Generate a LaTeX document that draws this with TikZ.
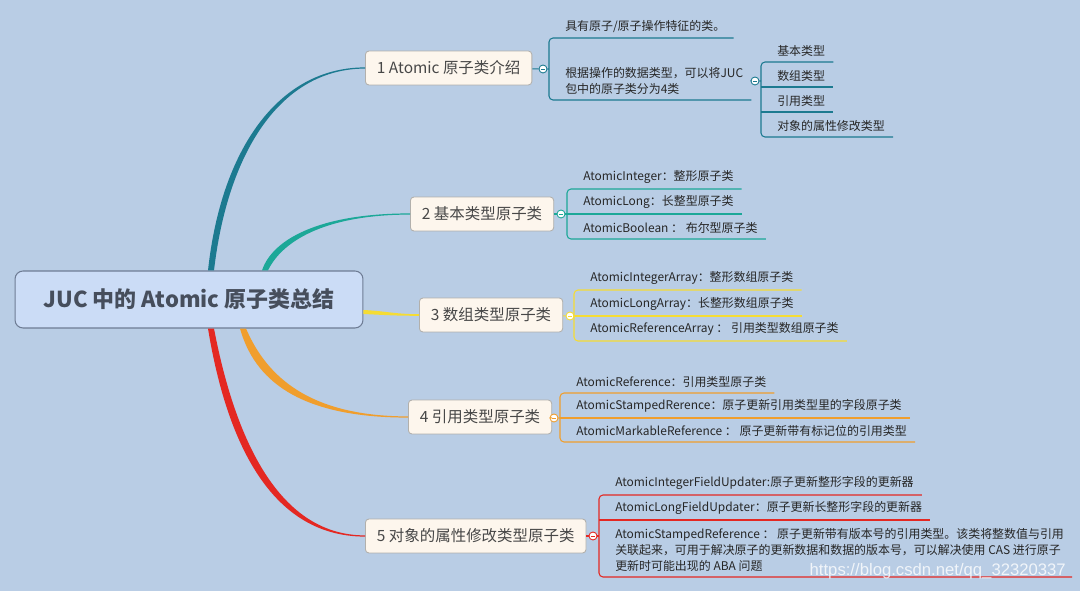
\documentclass[tikz,border=0pt]{standalone}
\usepackage{fontspec}
\setmainfont{Noto Sans CJK SC}
\newfontfamily\wmfont{Liberation Sans}
\usetikzlibrary{calc}

\definecolor{bg}{RGB}{185,205,229}
\definecolor{rootfill}{RGB}{203,220,246}
\definecolor{rootline}{RGB}{110,124,148}
\definecolor{roottext}{RGB}{70,78,92}
\definecolor{cream}{RGB}{253,246,237}
\definecolor{topicline}{RGB}{178,176,172}
\definecolor{c1}{RGB}{28,122,144}
\definecolor{c2}{RGB}{28,168,152}
\definecolor{c3}{RGB}{245,220,52}
\definecolor{c4}{RGB}{240,158,45}
\definecolor{c5}{RGB}{228,40,34}

\tikzset{
  root/.style={draw=rootline, fill=rootfill, rounded corners=0.16cm, line width=0.6pt,
    minimum width=6.96cm, minimum height=1.14cm, text=roottext,
    font=\fontsize{12.5}{15}\selectfont\bfseries},
  topic/.style={draw=topicline, fill=cream, rounded corners=0.07cm, line width=0.5pt,
    minimum height=0.68cm, inner xsep=0.23cm, anchor=west, text=black!72,
    font=\fontsize{8.8}{10}\selectfont},
  leaf/.style={anchor=south west, inner xsep=4.5pt, inner ysep=3pt, text=black!85,
    align=left, font=\fontsize{6.8}{9.2}\selectfont},
  fold/.style={circle, draw=#1, fill=white, line width=0.5pt, inner sep=0pt,
    minimum size=0.16cm,
    path picture={\draw[#1, line width=0.5pt]
      ([xshift=-0.045cm]path picture bounding box.center) --
      ([xshift=0.045cm]path picture bounding box.center);}},
  stem/.style={line width=0.6pt}
}

\begin{document}
\begin{tikzpicture}[x=0.02cm, y=-0.02cm]
  % canvas in screen pixels, y runs downwards
  \fill[bg] (0,0) rectangle (1080,591);
  \useasboundingbox (0,0) rectangle (1080,591);

  % --- central topic and main branches ---
  \node[root] (root) at (189,299.5) {JUC 中的 Atomic 原子类总结};
  \node[topic] (b1) at (365,68) {1 Atomic 原子类介绍};
  \node[topic] (b2) at (410,214) {2 基本类型原子类};
  \node[topic] (b3) at (419,315) {3 数组类型原子类};
  \node[topic] (b4) at (408,417) {4 引用类型原子类};
  \node[topic] (b5) at (365,536) {5 对象的属性修改类型原子类};

  % tapered links root -> topics
  \fill[c1] ($(root.north)+(19,0)$) .. controls (221,150) and (278,67.4) .. ($(b1.west)+(0,-0.6)$)
    -- ($(b1.west)+(0,0.6)$) .. controls (282,68.6) and (228,150) .. ($(root.north)+(25,0)$) -- cycle;
  \fill[c2] ($(root.north)+(73,0)$) .. controls (272,240) and (318,213.4) .. ($(b2.west)+(0,-0.6)$)
    -- ($(b2.west)+(0,0.6)$) .. controls (322,214.6) and (281,243) .. ($(root.north)+(79,0)$) -- cycle;
  \fill[c3] ($(root.east)+(0,10.5)$) .. controls (385,311) and (395,314.2) .. ($(b3.west)+(0,-0.8)$)
    -- ($(b3.west)+(0,0.8)$) .. controls (395,315.8) and (385,315) .. ($(root.east)+(0,14.5)$) -- cycle;
  \fill[c4] ($(root.south)+(51,0)$) .. controls (254,378) and (296,417.6) .. ($(b4.west)+(0,0.6)$)
    -- ($(b4.west)+(0,-0.6)$) .. controls (302,416.4) and (264,370) .. ($(root.south)+(57,0)$) -- cycle;
  \fill[c5] ($(root.south)+(19,0)$) .. controls (225,432) and (266,536.6) .. ($(b5.west)+(0,0.6)$)
    -- ($(b5.west)+(0,-0.6)$) .. controls (274,535.4) and (233,428) .. ($(root.south)+(25,0)$) -- cycle;

  % --- 1 Atomic ---
  \node[fold=c1] (o1) at (543,69) {};
  \coordinate (k1) at (549,69);
  \node[leaf] (l11) at (557,38) {具有原子/原子操作特征的类。};
  \node[leaf] (l12) at (557,100) {根据操作的数据类型，可以将JUC\\包中的原子类分为4类};
  \draw[c1, stem] (b1) -- (o1) -- (k1);
  \draw[c1, stem, rounded corners=0.08cm] (l11.south east) -- (l11.south east -| k1)
    -- (l12.south east -| k1) -- (l12.south east);

  \node[fold=c1] (o12) at (755,81) {};
  \coordinate (k12) at (761,81);
  \node[leaf] (s1) at (769,62) {基本类型};
  \node[leaf] (s2) at (769,87) {数组类型};
  \node[leaf] (s3) at (769,112) {引用类型};
  \node[leaf] (s4) at (769,137) {对象的属性修改类型};
  \draw[c1, stem] (l12.east) -- (o12) -- (k12);
  \draw[c1, stem, rounded corners=0.08cm] (s1.south east) -- (s1.south east -| k12)
    -- (s4.south east -| k12) -- (s4.south east);
  \draw[c1, stem] (s2.south east -| k12) -- (s2.south east);
  \draw[c1, stem] (s3.south east -| k12) -- (s3.south east);

  % --- 2 basic types ---
  \node[fold=c2] (o2) at (561,214) {};
  \coordinate (k2) at (567,214);
  \node[leaf] (a21) at (575,189) {AtomicInteger：整形原子类};
  \node[leaf] (a22) at (575,214) {AtomicLong：长整型原子类};
  \node[leaf] (a23) at (575,239) {AtomicBoolean ： 布尔型原子类};
  \draw[c2, stem] (b2) -- (o2) -- (k2);
  \draw[c2, stem, rounded corners=0.08cm] (a21.south east) -- (a21.south east -| k2)
    -- (a23.south east -| k2) -- (a23.south east);
  \draw[c2, stem] (a22.south east -| k2) -- (a22.south east);

  % --- 3 arrays ---
  \node[fold=c3] (o3) at (570,316) {};
  \coordinate (k3) at (574,316);
  \node[leaf] (a31) at (582,290) {AtomicIntegerArray：整形数组原子类};
  \node[leaf] (a32) at (582,316) {AtomicLongArray：长整形数组原子类};
  \node[leaf] (a33) at (582,341) {AtomicReferenceArray ： 引用类型数组原子类};
  \draw[c3, stem] (b3) -- (o3) -- (k3);
  \draw[c3, stem, rounded corners=0.08cm] (a31.south east) -- (a31.south east -| k3)
    -- (a33.south east -| k3) -- (a33.south east);
  \draw[c3, stem] (a32.south east -| k3) -- (a32.south east);

  % --- 4 references ---
  \node[fold=c4] (o4) at (554,418) {};
  \coordinate (k4) at (560,418);
  \node[leaf] (a41) at (568,393) {AtomicReference：引用类型原子类};
  \node[leaf] (a42) at (568,418) {AtomicStampedRerence：原子更新引用类型里的字段原子类};
  \node[leaf] (a43) at (568,442) {AtomicMarkableReference ： 原子更新带有标记位的引用类型};
  \draw[c4, stem] (b4) -- (o4) -- (k4);
  \draw[c4, stem, rounded corners=0.08cm] (a41.south east) -- (a41.south east -| k4)
    -- (a43.south east -| k4) -- (a43.south east);
  \draw[c4, stem] (a42.south east -| k4) -- (a42.south east);

  % --- 5 field updaters ---
  \node[fold=c5] (o5) at (593,536) {};
  \coordinate (k5) at (599,536);
  \node[leaf] (a51) at (607,495) {AtomicIntegerFieldUpdater:原子更新整形字段的更新器};
  \node[leaf] (a52) at (607,520) {AtomicLongFieldUpdater：原子更新长整形字段的更新器};
  \node[leaf] (a53) at (607,577) {AtomicStampedReference ： 原子更新带有版本号的引用类型。该类将整数值与引用\\关联起来，可用于解决原子的更新数据和数据的版本号，可以解决使用 CAS 进行原子\\更新时可能出现的 ABA 问题};
  \draw[c5, stem] (b5) -- (o5) -- (k5);
  \draw[c5, stem, rounded corners=0.08cm] (a51.south east) -- (a51.south east -| k5)
    -- (a53.south east -| k5) -- (a53.south east);
  \draw[c5, stem] (a52.south east -| k5) -- (a52.south east);

  % watermark
  \node[font=\wmfont\fontsize{9.5}{11}\selectfont, text=white, opacity=0.8, anchor=east]
    (mark) at (1072,571) {https://blog.csdn.net/qq\_32320337};
\end{tikzpicture}
\end{document}
